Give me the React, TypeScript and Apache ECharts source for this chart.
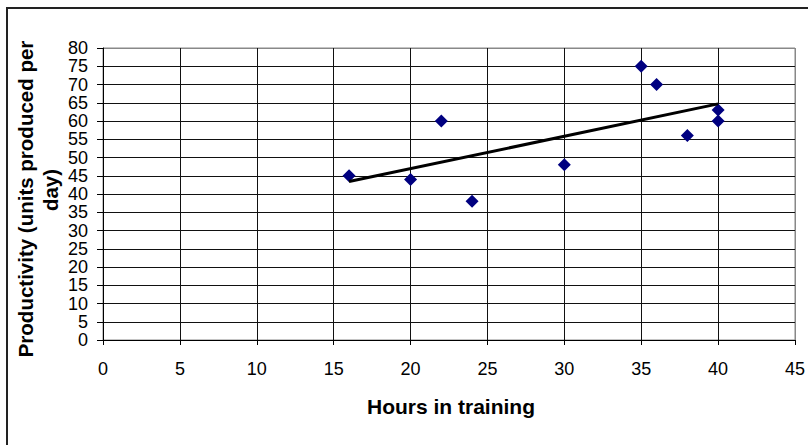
import React, { useEffect, useRef } from "react";
import * as echarts from "echarts";

const hoursTraining = [16, 20, 22, 24, 30, 35, 36, 38, 40, 40];
const productivity = [45, 44, 60, 38, 48, 75, 70, 56, 63, 60];
const trendHours = [16, 40];
const trendProductivity = [43.4, 64.7];

const xTitle = "Hours in training";
const yTitleLines = ["Productivity (units produced per", "day)"];

const FONT = "'Liberation Sans', Arial, sans-serif";

export default function App() {
  const ref = useRef<HTMLDivElement>(null);
  useEffect(() => {
    if (!ref.current) return;
    const chart = echarts.init(ref.current, null, { renderer: "svg" });
    const xSplitColors = Array.from({ length: 10 }, (_, i) => (i === 9 ? "#888888" : "#111111"));
    const ySplitColors = Array.from({ length: 17 }, (_, i) => (i === 16 ? "#888888" : "#111111"));
    chart.setOption({
      animation: false,
      backgroundColor: "#ffffff",
      textStyle: { fontFamily: FONT },
      grid: {
        left: 103,
        top: 48,
        right: 11,
        bottom: 105,
        containLabel: false,
        show: true,
        borderColor: "#888888",
        borderWidth: 1,
      },
      xAxis: {
        type: "value",
        min: 0,
        max: 45,
        interval: 5,
        axisLine: { show: true, onZero: false, lineStyle: { color: "#000", width: 1 } },
        axisTick: { show: true, inside: false, length: 5, lineStyle: { color: "#000" } },
        axisLabel: { color: "#000", fontSize: 18, fontFamily: FONT, margin: 20 },
        splitLine: { show: true, lineStyle: { color: xSplitColors, width: 1 } },
      },
      yAxis: {
        type: "value",
        min: 0,
        max: 80,
        interval: 5,
        axisLine: { show: true, lineStyle: { color: "#000", width: 1 } },
        axisTick: { show: true, inside: false, length: 6, lineStyle: { color: "#000" } },
        axisLabel: { color: "#000", fontSize: 18, fontFamily: FONT, margin: 15 },
        splitLine: { show: true, lineStyle: { color: ySplitColors, width: 1 } },
      },
      graphic: [
        {
          type: "rect",
          shape: { x: 7, y: 8, width: 830, height: 470 },
          style: { fill: "none", stroke: "#222", lineWidth: 2 },
          silent: true,
        },
        {
          type: "text",
          x: 451,
          y: 406,
          style: {
            text: xTitle,
            font: `bold 21px ${FONT}`,
            fill: "#000",
            align: "center",
            verticalAlign: "middle",
          },
        },
        {
          type: "text",
          x: 25,
          y: 199,
          rotation: Math.PI / 2,
          style: {
            text: yTitleLines[0],
            font: `bold 20.5px ${FONT}`,
            fill: "#000",
            align: "center",
            verticalAlign: "middle",
          },
        },
        {
          type: "text",
          x: 50,
          y: 190,
          rotation: Math.PI / 2,
          style: {
            text: yTitleLines[1],
            font: `bold 20.5px ${FONT}`,
            fill: "#000",
            align: "center",
            verticalAlign: "middle",
          },
        },
      ],
      series: [
        {
          type: "scatter",
          symbol: "diamond",
          symbolSize: 13,
          itemStyle: { color: "#000080", opacity: 1 },
          data: hoursTraining.map((h, i) => [h, productivity[i]]),
          z: 3,
        },
        {
          type: "line",
          symbol: "none",
          lineStyle: { color: "#000", width: 3 },
          data: trendHours.map((h, i) => [h, trendProductivity[i]]),
          z: 4,
        },
      ],
    });
    return () => chart.dispose();
  }, []);
  return (
    <div
      ref={ref}
      style={{ position: "fixed", left: 0, top: 0, width: 808, height: 445, background: "#fff" }}
    />
  );
}
